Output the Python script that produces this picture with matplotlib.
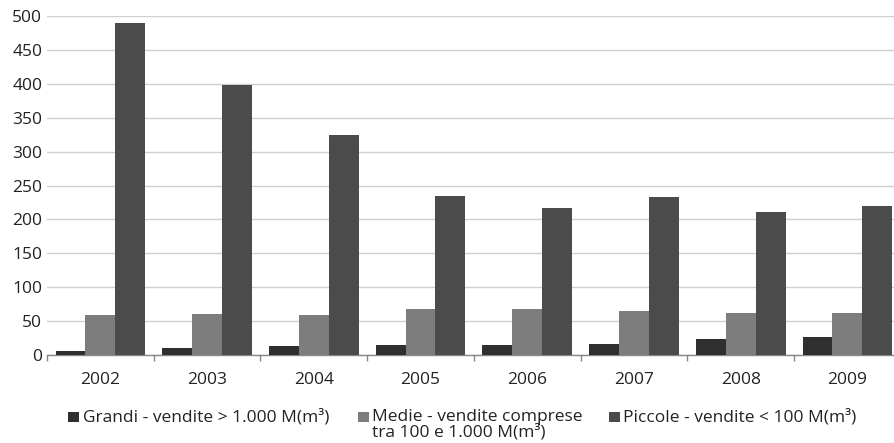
import matplotlib
matplotlib.use("Agg")
import matplotlib.pyplot as plt
import numpy as np
from matplotlib.patches import Rectangle

plt.rcParams['font.family'] = ['Open Sans', 'DejaVu Sans']

years = ["2002", "2003", "2004", "2005", "2006", "2007", "2008", "2009"]
grandi = [6.5, 10, 13, 15.5, 15.5, 16, 23, 27]
medie = [59, 61, 59, 68, 68, 65, 62, 62]
piccole = [490, 398, 324, 235, 217, 233, 211, 220]
labels = ["Grandi - vendite > 1.000 M(m³)",
          "Medie - vendite comprese\ntra 100 e 1.000 M(m³)",
          "Piccole - vendite < 100 M(m³)"]
colors = ["#2f2f2f", "#7d7d7d", "#4b4b4b"]
yticks = [0, 50, 100, 150, 200, 250, 300, 350, 400, 450, 500]

W, H = 894, 443
fig = plt.figure(figsize=(W / 100, H / 100), dpi=100)
ax = fig.add_axes([0.0526, 0.1986, 0.955, 0.765])

x = np.arange(len(years))
w = 0.28
for i, (vals, c) in enumerate(zip([grandi, medie, piccole], colors)):
    ax.bar(x + (i - 1) * w, vals, width=w, color=c, zorder=3)

ax.set_xlim(-0.5, len(years) - 0.5)
ax.set_ylim(0, 500)
ax.set_yticks(yticks)
ax.set_yticklabels([str(v) for v in yticks], fontsize=12.5, color="#222222")
ax.tick_params(axis='y', length=0, pad=3.5)
ax.set_xticks(x)
ax.set_xticklabels(years, fontsize=12.5, color="#222222")
ax.tick_params(axis='x', which='major', length=0, pad=12)
ax.set_xticks(np.arange(-0.5, len(years), 1.0), minor=True)
ax.tick_params(axis='x', which='minor', length=4, color="#888888", width=1)

ax.grid(axis='y', color="#cfcfcf", lw=1, zorder=0)
for s in ['top', 'right', 'left']:
    ax.spines[s].set_visible(False)
ax.spines['bottom'].set_color("#888888")
ax.spines['bottom'].set_linewidth(1)

# manual legend (handle aligned with the first line of each label)
handle_x = [68, 358, 609]
text_x = [83, 372, 623]
for hx, tx, lab, c in zip(handle_x, text_x, labels, colors):
    fig.patches.append(Rectangle((hx / W, 1 - 422 / H), 11 / W, 10 / H,
                                 transform=fig.transFigure, facecolor=c,
                                 edgecolor='none'))
    fig.text(tx / W, 1 - 409 / H, lab, fontsize=12.5, color="#222222",
             ha='left', va='top', linespacing=0.95)

fig.savefig("out.png", dpi=100)
